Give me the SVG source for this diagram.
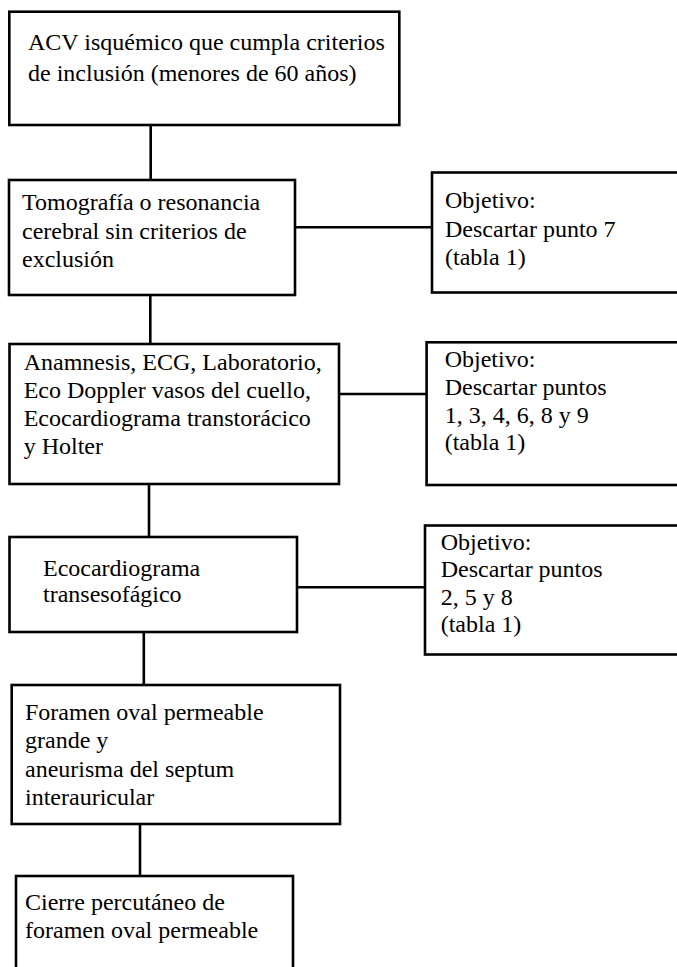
<svg xmlns="http://www.w3.org/2000/svg" width="677" height="967" viewBox="0 0 677 967">
<style>
.box{fill:#fff;stroke:#000;stroke-width:2.6}
.ln{stroke:#000;stroke-width:2.6;fill:none}
.t{font-family:'Liberation Serif','Times New Roman','DejaVu Serif',serif;font-size:24px;fill:#000}
</style>
<rect width="677" height="967" fill="#fff"/>
<g id="connectors">
<line class="ln" x1="150.7" y1="125" x2="150.7" y2="180"/>
<line class="ln" x1="295" y1="227.3" x2="432" y2="227.3"/>
<line class="ln" x1="150.3" y1="295" x2="150.3" y2="344"/>
<line class="ln" x1="339" y1="394" x2="426.6" y2="394"/>
<line class="ln" x1="149" y1="484" x2="149" y2="537"/>
<line class="ln" x1="297" y1="587.3" x2="425" y2="587.3"/>
<line class="ln" x1="143.8" y1="632" x2="143.8" y2="685"/>
<line class="ln" x1="140" y1="824" x2="140" y2="876"/>
</g>
<g class="t" font-family="Liberation Serif, serif" font-size="24">
<g id="n1">
<rect class="box" x="9.3" y="11.7" width="390" height="113.3"/>
<text x="28" y="50">ACV isquémico que cumpla criterios</text>
<text x="28" y="81">de inclusión (menores de 60 años)</text>
</g>
<g id="n2">
<rect class="box" x="9" y="180" width="286" height="115"/>
<text x="22" y="210">Tomografía o resonancia</text>
<text x="22" y="238.5">cerebral sin criterios de</text>
<text x="22" y="267">exclusión</text>
</g>
<g id="r2">
<rect class="box" x="432" y="172.5" width="260" height="120"/>
<text x="445" y="208">Objetivo:</text>
<text x="445" y="236.5">Descartar punto 7</text>
<text x="445" y="265">(tabla 1)</text>
</g>
<g id="n3">
<rect class="box" x="9.5" y="344" width="329.5" height="140"/>
<text x="23.7" y="370">Anamnesis, ECG, Laboratorio,</text>
<text x="23.7" y="398">Eco Doppler vasos del cuello,</text>
<text x="23.7" y="426">Ecocardiograma transtorácico</text>
<text x="23.7" y="453.5">y Holter</text>
</g>
<g id="r3">
<rect class="box" x="426.6" y="342.3" width="270" height="142.7"/>
<text x="444.7" y="367">Objetivo:</text>
<text x="444.7" y="394.5">Descartar puntos</text>
<text x="444.7" y="422.5">1, 3, 4, 6, 8 y 9</text>
<text x="444.7" y="450">(tabla 1)</text>
</g>
<g id="n4">
<rect class="box" x="9.5" y="537" width="287.5" height="95"/>
<text x="43" y="576">Ecocardiograma</text>
<text x="43" y="602">transesofágico</text>
</g>
<g id="r4">
<rect class="box" x="425" y="525.5" width="270" height="129"/>
<text x="440.7" y="550">Objetivo:</text>
<text x="440.7" y="577">Descartar puntos</text>
<text x="440.7" y="605">2, 5 y 8</text>
<text x="440.7" y="632">(tabla 1)</text>
</g>
<g id="n5">
<rect class="box" x="11.7" y="685" width="328.3" height="139"/>
<text x="25" y="720">Foramen oval permeable</text>
<text x="25" y="748">grande y</text>
<text x="25" y="776.5">aneurisma del septum</text>
<text x="25" y="805">interauricular</text>
</g>
<g id="n6">
<rect class="box" x="16" y="876" width="277" height="110"/>
<text x="25" y="910">Cierre percutáneo de</text>
<text x="25" y="938">foramen oval permeable</text>
</g>
</g>
</svg>
